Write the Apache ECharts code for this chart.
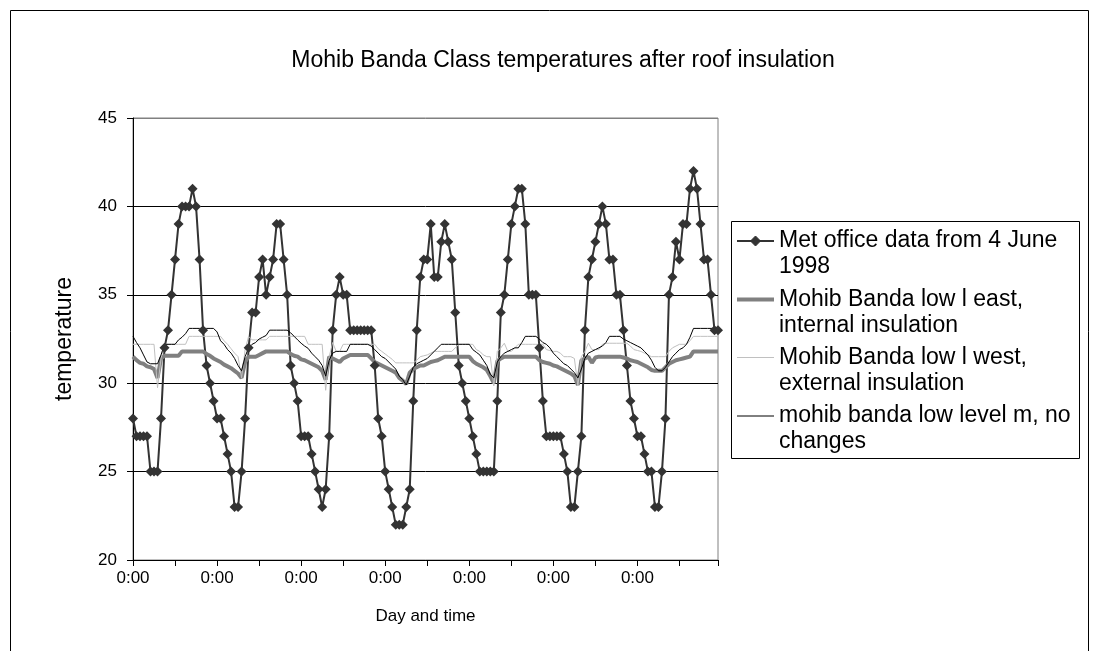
<!DOCTYPE html>
<html>
<head>
<meta charset="utf-8">
<script src="https://cdn.jsdelivr.net/npm/echarts@6/dist/echarts.min.js"></script>
<style>
html,body{margin:0;padding:0;background:#fff;}
#chart{width:1098px;height:651px;}
</style>
</head>
<body>
<div id="chart"></div>
<script>
// ---- data ----
const dayLabels = ['0:00','1:00','2:00','3:00','4:00','5:00','6:00','7:00','8:00','9:00','10:00','11:00',
  '12:00','13:00','14:00','15:00','16:00','17:00','18:00','19:00','20:00','21:00','22:00','23:00'];
const numDays = 7;

const metOffice = [
  28,27,27,27,27,25,25,25,28,32,33,35,37,39,40,40,40,41,40,37,33,31,30,29,
  28,28,27,26,25,23,23,25,28,32,34,34,36,37,35,36,37,39,39,37,35,31,30,29,
  27,27,27,26,25,24,23,24,27,33,35,36,35,35,33,33,33,33,33,33,33,31,28,27,
  25,24,23,22,22,22,23,24,29,33,36,37,37,39,36,36,38,39,38,37,34,31,30,29,
  28,27,26,25,25,25,25,25,29,34,35,37,39,40,41,41,39,35,35,35,32,29,27,27,
  27,27,27,26,25,23,23,25,27,33,36,37,38,39,40,39,37,37,35,35,33,31,29,28,
  27,27,26,25,25,23,23,25,28,35,36,38,37,39,39,41,42,41,39,37,37,35,33,33
];

const eastInternal = [
  31.5,31.3,31.15,31.1,30.95,30.9,30.8,30.3,31.4,31.55,31.55,31.55,31.55,31.55,31.8,31.8,31.8,31.8,31.8,31.8,31.8,31.65,31.55,31.4,
  31.3,31.2,31.05,30.95,30.85,30.7,30.55,30.3,31.2,31.5,31.5,31.5,31.6,31.7,31.8,31.8,31.8,31.8,31.8,31.8,31.8,31.65,31.55,31.5,
  31.35,31.3,31.2,31.1,31.0,30.9,30.7,30.2,31.5,31.4,31.3,31.2,31.4,31.5,31.6,31.6,31.6,31.6,31.6,31.6,31.4,31.2,31.1,31.0,
  30.9,30.8,30.7,30.6,30.3,30.15,29.95,30.6,30.8,30.9,31.0,31.0,31.1,31.2,31.25,31.3,31.4,31.5,31.5,31.5,31.5,31.5,31.5,31.5,
  31.5,31.25,31.1,31.0,30.9,30.75,30.4,30.0,31.25,31.4,31.5,31.5,31.5,31.5,31.5,31.5,31.5,31.5,31.5,31.5,31.3,31.2,31.15,31.1,
  31.0,30.95,30.85,30.75,30.65,30.55,30.4,29.9,31.3,31.4,31.5,31.15,31.45,31.5,31.5,31.5,31.5,31.5,31.5,31.5,31.45,31.4,31.3,31.25,
  31.2,31.1,31.0,30.9,30.75,30.7,30.7,30.7,30.9,31.1,31.2,31.3,31.35,31.4,31.45,31.5,31.8,31.8,31.8,31.8,31.8,31.8,31.8,31.8
];

const westExternal = [
  32.2,32.2,32.2,32.2,32.2,32.2,32.2,29.75,31.4,32.2,32.2,32.2,32.2,32.2,32.2,32.2,32.65,32.65,32.65,32.65,32.65,32.65,32.65,32.65,
  32.65,32.65,32.4,32.2,31.95,31.7,31.5,30.3,31.9,32.65,32.45,32.45,32.45,32.45,32.45,32.65,32.65,32.65,32.65,32.65,32.65,32.65,32.65,32.65,
  32.65,32.65,32.2,32.2,32.2,32.2,32.2,29.6,31.5,32.3,31.8,31.8,32.2,32.2,32.2,32.2,32.2,32.2,32.2,32.2,32.2,32.2,31.95,31.8,
  31.65,31.5,31.35,31.15,31.15,31.15,31.15,31.15,31.15,31.3,31.5,31.55,31.6,31.7,31.8,31.8,31.8,31.8,31.8,31.8,32.0,32.2,32.2,32.2,
  32.2,32.2,31.9,31.8,31.6,31.5,31.5,29.85,31.8,32.0,32.26,31.8,31.8,32.0,32.2,32.2,32.2,32.2,32.2,32.2,32.2,32.2,31.9,31.85,
  31.8,31.8,31.7,31.5,31.5,31.5,31.4,29.85,31.5,31.8,32.26,31.9,31.9,31.9,32.2,32.26,32.26,32.26,32.26,32.26,32.26,32.26,32.1,31.9,
  31.85,31.8,31.7,31.6,31.5,31.5,31.5,31.5,31.5,31.8,32.0,32.1,32.2,32.2,32.2,32.4,32.65,32.65,32.65,32.65,32.65,32.65,32.65,32.65
];

const noChanges = [
  32.65,32.3,32.0,31.6,31.2,31.1,31.1,31.1,31.6,32.2,32.2,32.2,32.2,32.45,32.6,32.8,33.1,33.1,33.1,33.1,33.1,33.1,33.1,33.1,
  32.9,32.4,32.2,31.9,31.7,31.4,31.0,30.7,31.5,32.0,32.2,32.3,32.5,32.6,32.7,33.0,33.0,33.0,33.0,33.0,33.0,32.85,32.65,32.45,
  32.26,32.1,31.97,31.7,31.5,31.3,31.0,30.4,31.3,31.7,31.8,31.8,31.8,31.8,32.2,32.2,32.2,32.2,32.2,32.2,32.1,31.9,31.7,31.5,
  31.4,31.2,31.0,30.8,30.4,30.2,29.9,30.4,30.9,31.1,31.2,31.3,31.4,31.6,31.8,32.0,32.2,32.2,32.2,32.2,32.2,32.2,32.2,32.2,
  32.2,31.9,31.75,31.6,31.3,31.0,30.5,30.3,31.2,31.5,31.7,31.8,31.9,32.0,32.0,32.3,32.65,32.65,32.65,32.65,32.5,32.3,32.2,32.0,
  31.7,31.5,31.3,31.1,31.0,30.8,30.6,30.3,30.8,31.4,31.7,31.8,31.9,32.0,32.1,32.3,32.65,32.65,32.65,32.65,32.5,32.4,32.3,32.2,
  32.1,32.0,31.8,31.6,31.3,30.9,30.7,30.7,30.9,31.2,31.5,31.7,31.9,32.0,32.2,32.6,33.1,33.1,33.1,33.1,33.1,33.1,33.1,33.1
];

const seriesNames = [
  'Met office data from 4 June 1998',
  'Mohib Banda low l east, internal insulation',
  'Mohib Banda low l west, external insulation',
  'mohib banda low level m, no changes'
];
const legendLines = [
  ['Met office data from 4 June', '1998'],
  ['Mohib Banda low l east,', 'internal insulation'],
  ['Mohib Banda low l west,', 'external insulation'],
  ['mohib banda low level m, no', 'changes']
];
const yTicks = [20, 25, 30, 35, 40, 45];

// ---- build ----
const categories = [];
for (let d = 0; d < numDays; d++) for (let h = 0; h < dayLabels.length; h++) categories.push(dayLabels[h]);

const FONT = '"Liberation Sans", Arial, sans-serif';
const styles = [
  {line: '#333333', width: 2, symbol: 'diamond'},
  {line: '#808080', width: 4, symbol: 'none'},
  {line: '#c0c0c0', width: 1, symbol: 'none'},
  {line: '#000000', width: 1, symbol: 'none'}
];
const seriesData = [metOffice, eastInternal, westExternal, noChanges];

const chart = echarts.init(document.getElementById('chart'), null, {renderer: 'canvas'});

const G = {left: 133, top: 118, width: 585, height: 442};

// legend drawn as graphic (icons aligned with first text line, like the original)
const L = {x: 731, y: 221, w: 348, h: 237};
const legendGraphics = [{
  type: 'rect', shape: {x: L.x + 0.5, y: L.y + 0.5, width: L.w, height: L.h},
  style: {fill: '#fff', stroke: '#000', lineWidth: 1}, z: 10
}];
const itemY = [241, 299.5, 357.5, 416];
const lineGap = 26;
legendLines.forEach((lines, k) => {
  const y = itemY[k];
  legendGraphics.push({
    type: 'line', shape: {x1: 737, y1: y, x2: 774, y2: y},
    style: {stroke: styles[k].line, lineWidth: styles[k].width}, z: 11
  });
  if (styles[k].symbol === 'diamond') {
    legendGraphics.push({
      type: 'polygon', shape: {points: [[755.5, y - 5], [760.5, y], [755.5, y + 5], [750.5, y]]},
      style: {fill: '#333', stroke: '#333'}, z: 12
    });
  }
  lines.forEach((t, j) => {
    legendGraphics.push({
      type: 'text', x: 779, y: y + j * lineGap,
      style: {text: t, font: '23px ' + FONT, fill: '#000', verticalAlign: 'middle', textVerticalAlign: 'middle'},
      z: 11
    });
  });
});

const option = {
  animation: false,
  backgroundColor: '#fff',
  title: {
    text: 'Mohib Banda Class temperatures after roof insulation',
    left: 558, top: 44, textAlign: 'center',
    textStyle: {fontFamily: FONT, fontSize: 23, fontWeight: 'normal', color: '#000'}
  },
  grid: {left: G.left, top: G.top, width: G.width, height: G.height, show: true, borderColor: '#808080', borderWidth: 1, backgroundColor: 'transparent'},
  xAxis: {
    type: 'category', data: categories, boundaryGap: false,
    name: 'Day and time', nameLocation: 'middle', nameGap: 48,
    nameTextStyle: {fontFamily: FONT, fontSize: 17, color: '#000'},
    axisLine: {lineStyle: {color: '#000', width: 1}},
    axisTick: {show: true, interval: (i) => i % 12 === 0 || i === categories.length - 1, length: 6, lineStyle: {color: '#000'}},
    axisLabel: {interval: (i) => i % 24 === 0, fontFamily: FONT, fontSize: 17, color: '#000', margin: 10},
    splitLine: {show: false}
  },
  yAxis: {
    type: 'value', min: yTicks[0], max: yTicks[yTicks.length - 1], interval: 5,
    name: 'temperature', nameLocation: 'middle', nameGap: 57, nameRotate: 90,
    nameTextStyle: {fontFamily: FONT, fontSize: 23, color: '#000'},
    axisLine: {show: true, lineStyle: {color: '#000', width: 1}},
    axisTick: {show: true, length: 6, lineStyle: {color: '#000'}},
    axisLabel: {fontFamily: FONT, fontSize: 17, color: '#000', margin: 16},
    splitLine: {show: true, lineStyle: {color: ['#000', '#000', '#000', '#000', '#000', '#808080'], width: 1}}
  },
  series: seriesNames.map((n, k) => ({
    name: n, type: 'line', data: seriesData[k],
    symbol: styles[k].symbol, symbolSize: 10, showAllSymbol: true,
    itemStyle: {color: k === 0 ? '#333' : styles[k].line},
    lineStyle: {color: styles[k].line, width: styles[k].width},
    emphasis: {disabled: true}
  })),
  graphic: [
    {type: 'rect', shape: {x: 10.5, y: 10.5, width: 1078, height: 700}, style: {fill: 'none', stroke: '#000', lineWidth: 1}, z: 0, silent: true}
  ].concat(legendGraphics)
};
chart.setOption(option);
</script>
</body>
</html>
